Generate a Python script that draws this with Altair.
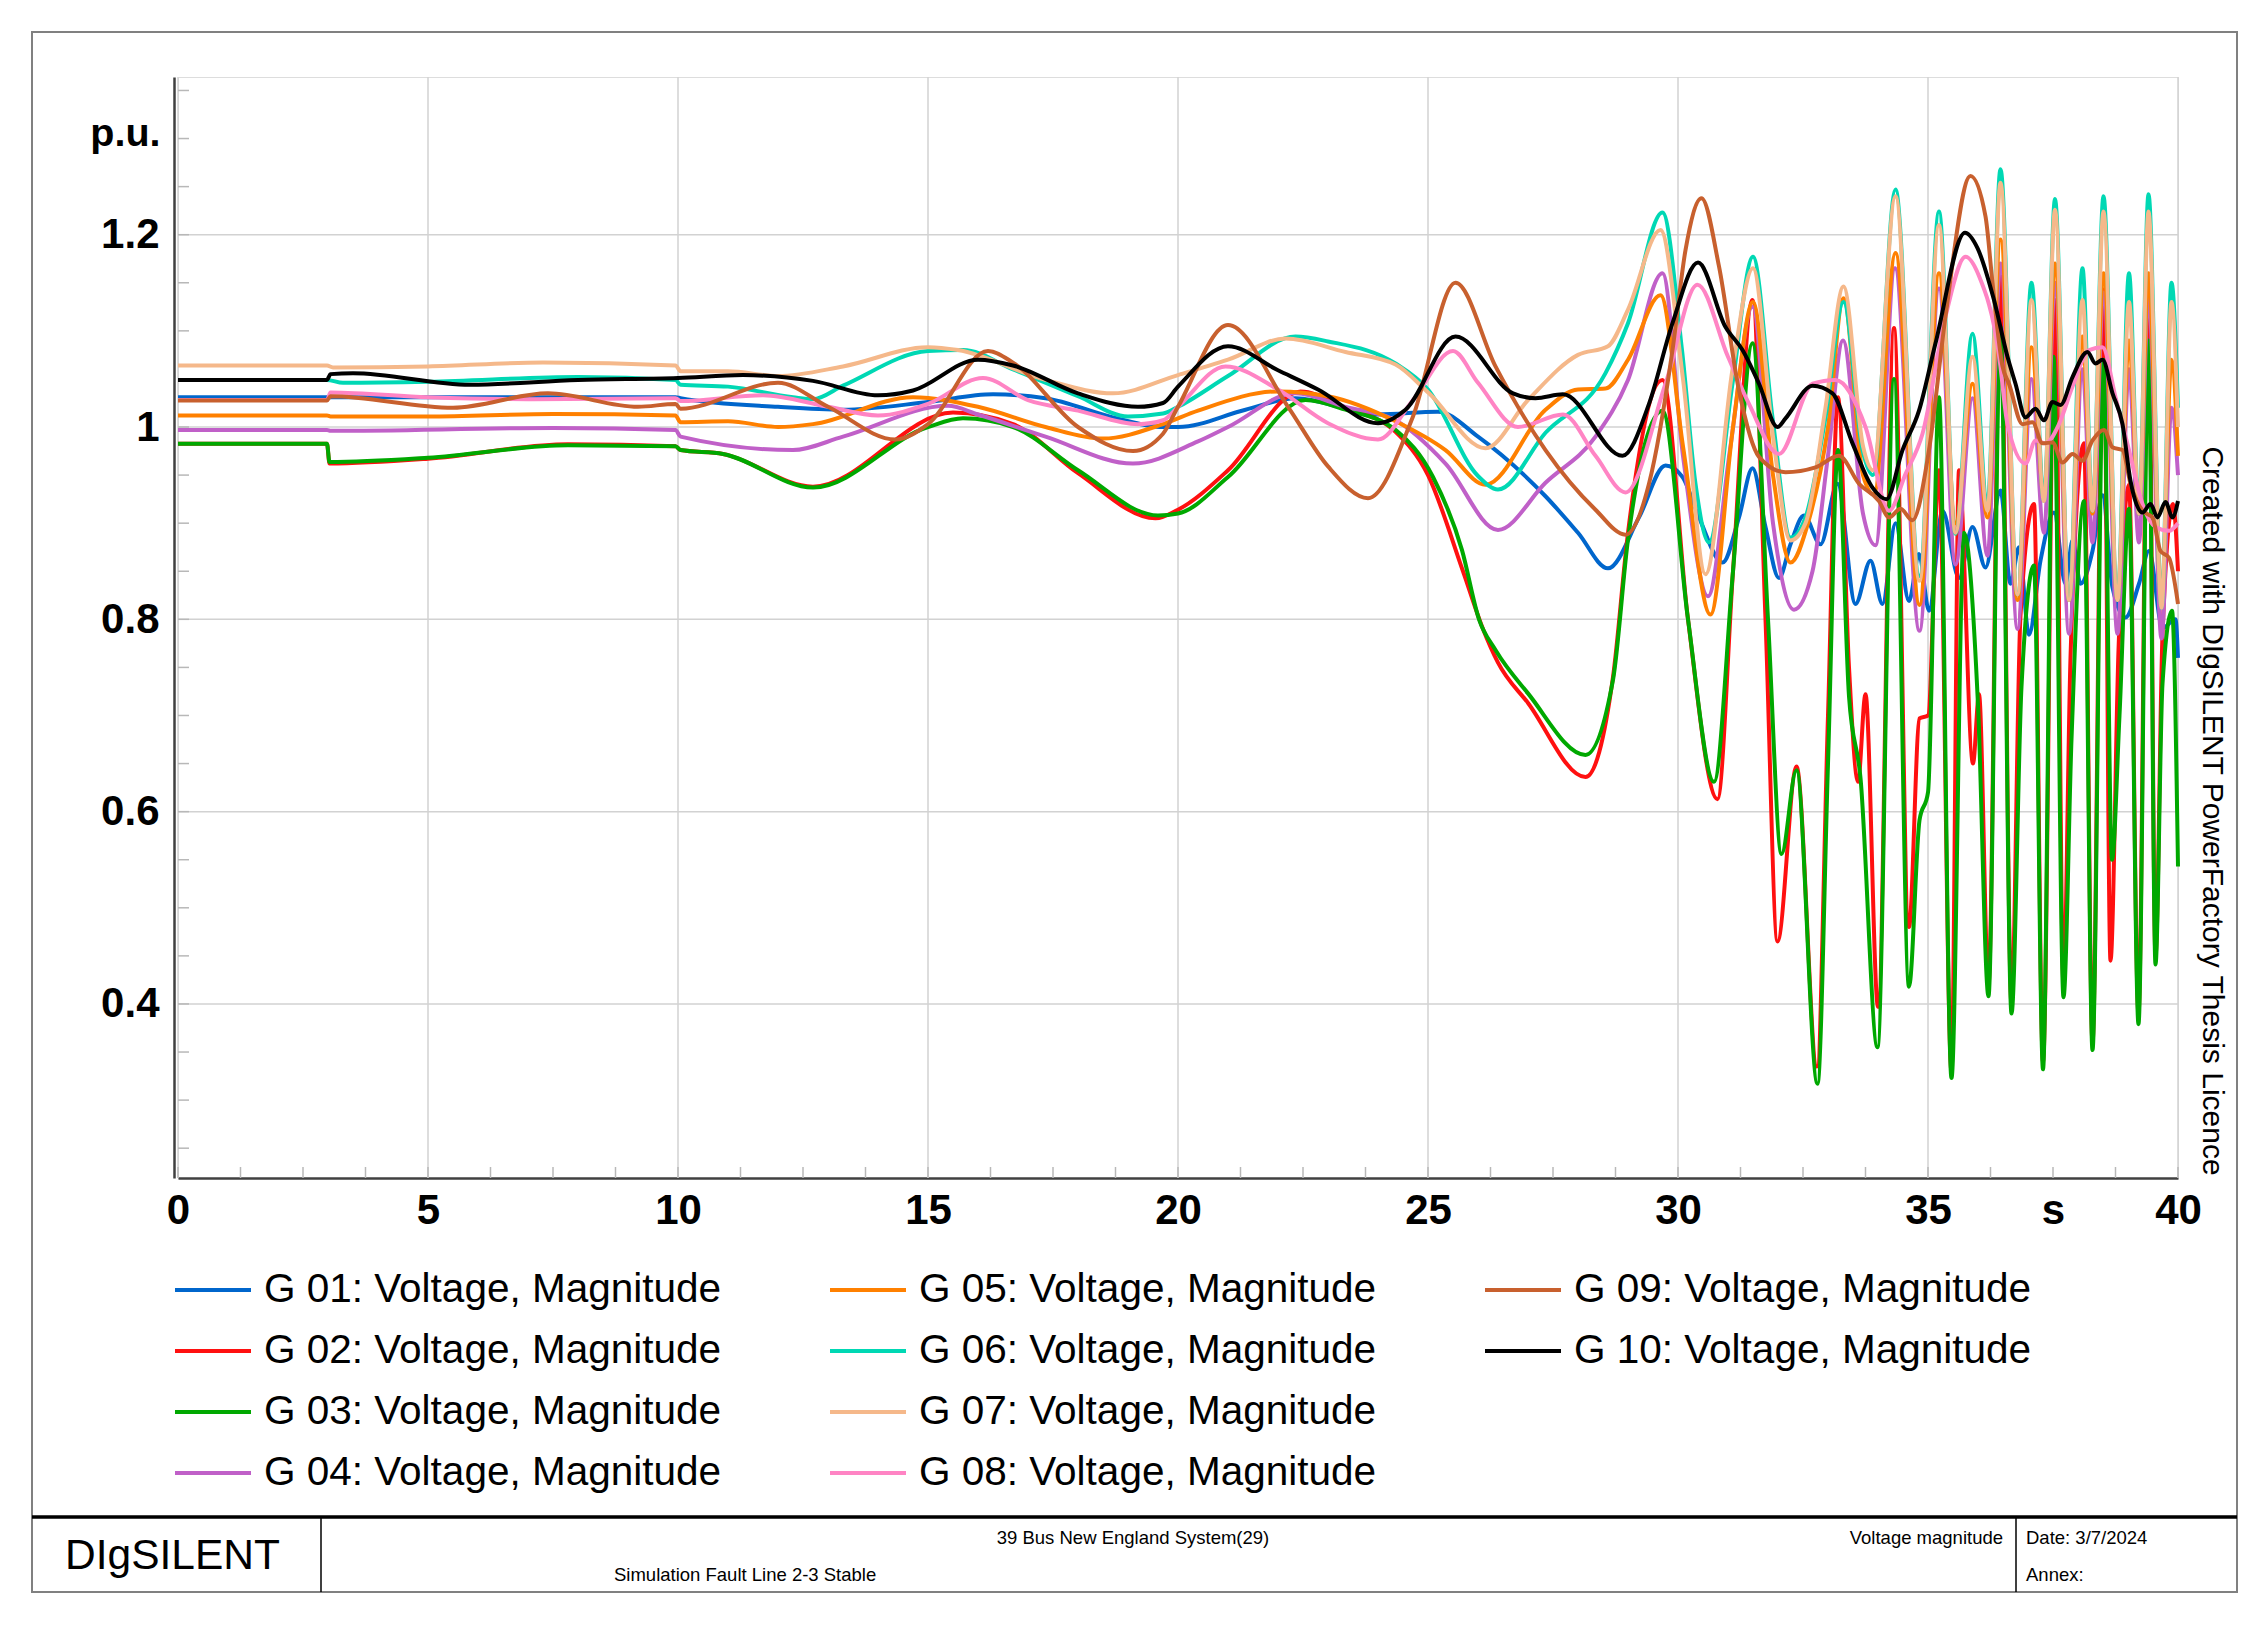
import altair as alt
import pandas as pd

SERIES = [
    "G 01: Voltage, Magnitude", "G 02: Voltage, Magnitude", "G 03: Voltage, Magnitude",
    "G 04: Voltage, Magnitude", "G 05: Voltage, Magnitude", "G 06: Voltage, Magnitude",
    "G 07: Voltage, Magnitude", "G 08: Voltage, Magnitude", "G 09: Voltage, Magnitude",
    "G 10: Voltage, Magnitude",
]
COLORS = ["#0066CC", "#FF1010", "#00A800", "#C060C8", "#FF8000",
          "#00D8B4", "#F5B88A", "#FF84C4", "#C8602E", "#000000"]

# (time s, voltage p.u.)
G01 = [(0, 1.031), (9.95, 1.031), (10.05, 1.03), (12.0, 1.021), (13.3, 1.018), (15.0, 1.026),
       (16.3, 1.034), (17.35, 1.03), (18.7, 1.01), (19.7, 1.0), (20.0, 1.0), (21.35, 1.018),
       (22.35, 1.03), (24.0, 1.013), (25.2, 1.016), (26.0, 0.99), (27.35, 0.928), (28.0, 0.89),
       (28.6, 0.853), (29.22, 0.906), (29.75, 0.96), (30.09, 0.948), (30.42, 0.906), (30.89, 0.859),
       (31.22, 0.906), (31.49, 0.957), (31.75, 0.896), (32.02, 0.843), (32.25, 0.878), (32.52, 0.908),
       (32.85, 0.878), (33.19, 0.941), (33.55, 0.816), (33.85, 0.861), (34.09, 0.816), (34.35, 0.9),
       (34.62, 0.819), (34.82, 0.868), (35.02, 0.809), (35.29, 0.913), (35.62, 0.843), (35.89, 0.896),
       (36.15, 0.854), (36.45, 0.934), (36.65, 0.837), (36.82, 0.875), (37.02, 0.784), (37.25, 0.861),
       (37.52, 0.911), (37.75, 0.837), (37.89, 0.882), (38.05, 0.837), (38.29, 0.871), (38.49, 0.929),
       (38.69, 0.833), (38.95, 0.802), (39.22, 0.837), (39.42, 0.871), (39.69, 0.791), (39.95, 0.8),
       (40.0, 0.76)]
G02 = [(0, 0.9825), (2.98, 0.9825), (3.03, 0.962), (5, 0.967), (7.8, 0.982), (9.95, 0.98),
       (10.05, 0.976), (10.9, 0.972), (12.7, 0.938), (15.5, 1.015), (16.7, 1.003), (18.0, 0.952),
       (19.55, 0.905), (20.0, 0.914), (21.0, 0.955), (22.45, 1.037), (23.35, 1.02), (24.35, 0.995),
       (25.0, 0.95), (25.7, 0.85), (26.1, 0.79), (26.4, 0.755), (27.0, 0.713), (28.15, 0.636),
       (28.7, 0.74), (29.0, 0.89), (29.69, 1.049), (30.2, 0.8), (30.79, 0.613), (31.1, 0.85),
       (31.49, 1.132), (31.75, 0.8), (31.99, 0.465), (32.37, 0.647), (32.78, 0.335), (33.0, 0.7),
       (33.2, 1.031), (33.42, 0.75), (33.6, 0.631), (33.75, 0.722), (34.0, 0.397), (34.32, 1.103),
       (34.62, 0.48), (34.83, 0.697), (35.0, 0.7), (35.22, 0.955), (35.47, 0.33), (35.62, 0.955),
       (35.9, 0.65), (36.02, 0.722), (36.21, 0.42), (36.45, 1.157), (36.67, 0.4), (36.85, 0.804),
       (37.12, 0.92), (37.3, 0.34), (37.54, 1.132), (37.71, 0.42), (37.85, 0.76), (38.12, 0.983),
       (38.29, 0.36), (38.51, 1.143), (38.65, 0.445), (38.81, 0.768), (39.02, 0.94), (39.21, 0.39),
       (39.41, 1.157), (39.55, 0.45), (39.69, 0.784), (39.9, 0.92), (40.0, 0.85)]
G03 = [(0, 0.9825), (2.98, 0.9825), (3.03, 0.9635), (5, 0.968), (7.8, 0.981), (9.95, 0.98),
       (10.05, 0.976), (10.9, 0.972), (12.7, 0.937), (15.0, 1.0), (15.7, 1.009), (16.7, 1.0),
       (18.0, 0.955), (19.6, 0.908), (20.0, 0.91), (21.0, 0.948), (22.55, 1.028), (23.35, 1.018),
       (24.35, 0.997), (25.1, 0.948), (25.68, 0.872), (26.02, 0.8), (26.35, 0.768), (27.0, 0.723),
       (28.15, 0.659), (28.7, 0.737), (29.0, 0.883), (29.69, 1.017), (30.2, 0.8), (30.72, 0.631),
       (31.1, 0.85), (31.49, 1.087), (31.8, 0.8), (32.07, 0.556), (32.37, 0.643), (32.79, 0.317),
       (33.0, 0.65), (33.2, 0.976), (33.42, 0.72), (33.65, 0.635), (33.99, 0.355), (34.32, 1.05),
       (34.62, 0.418), (34.83, 0.591), (35.0, 0.62), (35.22, 1.031), (35.47, 0.323), (35.72, 0.89),
       (36.0, 0.711), (36.21, 0.408), (36.45, 1.104), (36.67, 0.39), (36.87, 0.73), (37.12, 0.856),
       (37.3, 0.332), (37.51, 1.073), (37.71, 0.407), (37.87, 0.675), (38.12, 0.923), (38.29, 0.352),
       (38.51, 1.07), (38.68, 0.55), (38.83, 0.7), (39.02, 0.915), (39.21, 0.379), (39.41, 1.09),
       (39.55, 0.441), (39.69, 0.733), (39.88, 0.809), (40.0, 0.543)]
G04 = [(0, 0.997), (2.98, 0.997), (3.05, 0.996), (7.5, 0.999), (9.95, 0.997), (10.05, 0.99),
       (12.3, 0.976), (13.3, 0.99), (15.4, 1.022), (16.0, 1.013), (17.35, 0.99), (19.1, 0.962),
       (20.4, 0.985), (21.0, 1.0), (22.35, 1.035), (23.35, 1.021), (24.35, 1.007), (25.35, 0.962),
       (26.4, 0.893), (27.35, 0.942), (28.35, 0.99), (29.0, 1.049), (29.69, 1.16), (30.1, 0.97),
       (30.6, 0.824), (31.05, 0.98), (31.49, 1.125), (31.9, 0.9), (32.32, 0.81), (32.69, 0.85),
       (33.0, 0.97), (33.3, 1.09), (33.7, 0.91), (33.95, 0.877), (34.34, 1.165), (34.83, 0.788),
       (35.22, 1.144), (35.55, 0.857), (35.89, 1.03), (36.19, 0.866), (36.45, 1.17), (36.79, 0.79),
       (37.07, 1.05), (37.32, 0.89), (37.54, 1.15), (37.82, 0.785), (38.09, 1.06), (38.29, 0.88),
       (38.51, 1.14), (38.79, 0.785), (39.02, 1.06), (39.22, 0.88), (39.41, 1.14), (39.67, 0.78),
       (39.87, 1.02), (40.0, 0.95)]
G05 = [(0, 1.012), (2.98, 1.012), (3.05, 1.011), (5, 1.011), (7.5, 1.0135), (9.95, 1.012),
       (10.05, 1.005), (11, 1.006), (12.0, 1.0), (12.7, 1.003), (14.7, 1.031), (16.0, 1.021),
       (17.35, 1.0), (18.5, 0.988), (19.7, 1.003), (20.4, 1.017), (22.0, 1.037), (23.0, 1.032),
       (24.35, 1.006), (25.35, 0.976), (26.15, 0.94), (27.35, 1.018), (28.0, 1.039), (28.55, 1.04),
       (29.0, 1.07), (29.65, 1.137), (30.1, 0.98), (30.65, 0.805), (31.1, 1.0), (31.5, 1.13),
       (31.9, 0.95), (32.25, 0.859), (32.6, 0.9), (33.0, 1.0), (33.31, 1.134), (33.7, 0.95),
       (33.92, 0.93), (34.35, 1.181), (34.83, 0.815), (35.22, 1.16), (35.55, 0.9), (35.89, 1.045),
       (36.19, 0.906), (36.45, 1.195), (36.79, 0.82), (37.07, 1.083), (37.32, 0.927), (37.54, 1.17),
       (37.82, 0.82), (38.09, 1.094), (38.29, 0.91), (38.51, 1.16), (38.79, 0.82), (39.02, 1.09),
       (39.22, 0.91), (39.41, 1.16), (39.67, 0.82), (39.87, 1.07), (40.0, 0.97)]
G06 = [(0, 1.049), (2.98, 1.049), (3.3, 1.046), (5, 1.047), (8, 1.052), (9.95, 1.049),
       (10.05, 1.044), (11, 1.042), (12.3, 1.031), (12.7, 1.029), (13.3, 1.043), (15.0, 1.079),
       (15.7, 1.08), (16.7, 1.06), (18.0, 1.032), (19.0, 1.011), (19.7, 1.014), (20.0, 1.021),
       (21.0, 1.053), (22.35, 1.094), (23.0, 1.089), (24.35, 1.066), (25.0, 1.039), (26.0, 0.949),
       (26.4, 0.935), (27.35, 0.994), (28.55, 1.056), (29.0, 1.108), (29.69, 1.223), (30.08, 1.08),
       (30.35, 0.941), (30.62, 0.88), (31.09, 1.045), (31.5, 1.177), (31.89, 1.01), (32.25, 0.885),
       (32.55, 0.906), (32.95, 1.01), (33.31, 1.13), (33.69, 0.976), (33.9, 0.95), (34.35, 1.247),
       (34.83, 0.845), (35.22, 1.224), (35.55, 0.889), (35.89, 1.097), (36.19, 0.92), (36.45, 1.268),
       (36.79, 0.826), (37.07, 1.15), (37.32, 0.923), (37.54, 1.237), (37.82, 0.82), (38.09, 1.165),
       (38.29, 0.913), (38.51, 1.24), (38.79, 0.82), (39.02, 1.16), (39.22, 0.91), (39.41, 1.242),
       (39.67, 0.812), (39.87, 1.15), (40.0, 1.02)]
G07 = [(0, 1.064), (2.98, 1.064), (3.1, 1.062), (5, 1.063), (7.3, 1.067), (9.95, 1.064),
       (10.05, 1.058), (11, 1.058), (12.0, 1.053), (13.3, 1.063), (15.0, 1.083), (15.6, 1.08),
       (17.35, 1.049), (18.7, 1.035), (20.0, 1.054), (21.0, 1.07), (22.15, 1.092), (23.35, 1.078),
       (24.35, 1.065), (25.02, 1.035), (26.15, 0.978), (27.0, 1.028), (28.0, 1.075), (28.6, 1.084),
       (29.0, 1.122), (29.65, 1.205), (30.1, 1.05), (30.55, 0.847), (31.09, 1.06), (31.5, 1.165),
       (31.9, 0.99), (32.25, 0.882), (32.55, 0.9), (32.95, 1.02), (33.31, 1.146), (33.7, 0.98),
       (33.9, 0.955), (34.35, 1.24), (34.83, 0.84), (35.22, 1.21), (35.55, 0.89), (35.89, 1.073),
       (36.19, 0.913), (36.45, 1.254), (36.79, 0.826), (37.07, 1.132), (37.32, 0.923), (37.54, 1.226),
       (37.82, 0.82), (38.09, 1.132), (38.29, 0.913), (38.51, 1.224), (38.79, 0.82), (39.02, 1.13),
       (39.22, 0.91), (39.41, 1.224), (39.67, 0.812), (39.87, 1.13), (40.0, 1.0)]
G08 = [(0, 1.028), (2.98, 1.028), (3.05, 1.036), (5, 1.031), (7, 1.029), (9.95, 1.03),
       (10.05, 1.027), (11.7, 1.033), (13.0, 1.021), (14.0, 1.012), (15.0, 1.024), (16.1, 1.051),
       (17.0, 1.028), (18.0, 1.017), (19.2, 1.003), (19.7, 1.007), (20.0, 1.021), (20.95, 1.063),
       (22.0, 1.039), (23.0, 1.004), (24.0, 0.987), (24.7, 1.028), (25.5, 1.079), (26.0, 1.046),
       (26.8, 1.0), (27.7, 1.013), (28.35, 0.97), (28.95, 0.932), (29.75, 1.045), (30.39, 1.148),
       (31.0, 1.073), (31.42, 1.024), (32.02, 0.972), (32.69, 1.045), (33.15, 1.049), (33.75, 1.0),
       (34.22, 0.913), (34.55, 0.951), (34.89, 0.993), (35.35, 1.115), (35.75, 1.177), (36.02, 1.157),
       (36.42, 1.075), (36.59, 1.003), (36.95, 0.962), (37.15, 0.986), (37.35, 0.983), (37.62, 1.003),
       (37.89, 1.042), (38.22, 1.08), (38.49, 1.083), (38.75, 1.031), (39.02, 0.976), (39.29, 0.92),
       (39.55, 0.896), (39.82, 0.892), (40.0, 0.9)]
G09 = [(0, 1.0276), (2.98, 1.0276), (3.05, 1.032), (5.5, 1.02), (7.4, 1.035), (9.2, 1.021),
       (9.95, 1.024), (10.05, 1.019), (12.0, 1.046), (13.0, 1.021), (14.35, 0.987), (15.0, 1.003),
       (16.2, 1.079), (16.7, 1.067), (18.0, 1.0), (19.1, 0.975), (19.7, 0.993), (20.0, 1.021),
       (21.0, 1.106), (22.2, 1.021), (23.0, 0.959), (23.8, 0.926), (24.7, 1.011), (25.55, 1.15),
       (26.35, 1.063), (27.35, 0.976), (28.35, 0.914), (28.95, 0.888), (29.42, 0.941), (29.89, 1.08),
       (30.15, 1.184), (30.47, 1.238), (30.82, 1.167), (31.22, 1.038), (31.62, 0.969), (32.15, 0.953),
       (32.75, 0.958), (33.22, 0.97), (33.62, 0.941), (34.02, 0.923), (34.22, 0.906), (34.45, 0.915),
       (34.69, 0.903), (35.02, 0.976), (35.35, 1.115), (35.85, 1.261), (36.15, 1.219), (36.29, 1.15),
       (36.49, 1.063), (36.62, 1.045), (36.89, 1.003), (37.09, 1.005), (37.29, 0.983), (37.49, 0.984),
       (37.69, 0.963), (37.89, 0.972), (38.09, 0.965), (38.29, 0.986), (38.52, 0.997), (38.69, 0.979),
       (38.89, 0.976), (39.05, 0.941), (39.29, 0.913), (39.49, 0.906), (39.65, 0.871), (39.82, 0.864),
       (40.0, 0.816)]
G10 = [(0, 1.049), (2.98, 1.049), (3.05, 1.055), (3.5, 1.056), (5.84, 1.044), (8, 1.049),
       (10, 1.051), (11.3, 1.054), (12.7, 1.048), (14.0, 1.033), (14.7, 1.038), (16.0, 1.07),
       (16.7, 1.064), (18.0, 1.035), (19.2, 1.021), (19.7, 1.025), (20.0, 1.042), (21.0, 1.084),
       (22.0, 1.059), (22.8, 1.039), (24.0, 1.004), (24.55, 1.018), (25.55, 1.094), (26.7, 1.035),
       (27.15, 1.03), (27.7, 1.034), (28.89, 0.97), (29.42, 1.024), (29.89, 1.108), (30.4, 1.171),
       (30.95, 1.104), (31.29, 1.08), (31.62, 1.045), (31.99, 1.0), (32.15, 1.009), (32.69, 1.043),
       (33.09, 1.035), (33.49, 0.983), (33.89, 0.937), (34.17, 0.925), (34.49, 0.976), (34.82, 1.017),
       (35.15, 1.087), (35.74, 1.202), (35.99, 1.186), (36.32, 1.132), (36.59, 1.073), (36.75, 1.045),
       (36.95, 1.01), (37.15, 1.019), (37.32, 1.007), (37.49, 1.026), (37.65, 1.023), (37.89, 1.052),
       (38.19, 1.078), (38.35, 1.066), (38.49, 1.07), (38.69, 1.035), (38.89, 1.003), (39.05, 0.944),
       (39.29, 0.911), (39.45, 0.92), (39.59, 0.906), (39.75, 0.922), (39.89, 0.906), (40.0, 0.923)]

X_GRID = [0, 5, 10, 15, 20, 25, 30, 35, 40]
X_TICKS = [0, 5, 10, 15, 20, 25, 30, 35, 37.5, 40]
Y_TICKS = [0.4, 0.6, 0.8, 1.0, 1.2]
X_MINOR = [0, 1.25, 2.5, 3.75, 5, 6.25, 7.5, 8.75, 10, 11.25, 12.5, 13.75, 15, 16.25, 17.5, 18.75,
           20, 21.25, 22.5, 23.75, 25, 26.25, 27.5, 28.75, 30, 31.25, 32.5, 33.75, 35, 36.25, 37.5,
           38.75, 40]
Y_MINOR = [0.25, 0.3, 0.35, 0.4, 0.45, 0.5, 0.55, 0.6, 0.65, 0.7, 0.75, 0.8, 0.85, 0.9, 0.95,
           1.0, 1.05, 1.1, 1.15, 1.2, 1.25, 1.3, 1.35]

ALL = [G01, G02, G03, G04, G05, G06, G07, G08, G09, G10]
rows = []
for name, pts in zip(SERIES, ALL):
    for t, v in pts:
        rows.append({"series": name, "t": t, "v": v})
df = pd.DataFrame(rows)

W, H = 2000, 1101
FONT = "Liberation Sans"
xs = alt.Scale(domain=[0, 40], nice=False, zero=False)
ys = alt.Scale(domain=[0.219, 1.364], nice=False, zero=False)

x_axis = alt.Axis(values=X_TICKS, labelExpr="datum.value == 37.5 ? 's' : datum.label",
                  grid=False, ticks=False, domain=True, domainColor="#404040", domainWidth=2.5,
                  labelFont=FONT, labelFontWeight="bold", labelFontSize=42, labelColor="black",
                  labelPadding=12, labelFlush=False, labelOverlap=False, title="")
y_axis = alt.Axis(values=Y_TICKS, format=".2~f", grid=False, ticks=False, domain=True,
                  domainColor="#404040", domainWidth=2.5, offset=4,
                  labelFont=FONT, labelFontWeight="bold", labelFontSize=42, labelColor="black",
                  labelPadding=15, labelFlush=False, labelOverlap=False,
                  title="p.u.", titleAngle=0, titleAlign="right", titleBaseline="middle",
                  titleX=-14, titleY=56, titleFont=FONT, titleFontSize=39.5,
                  titleFontWeight="bold", titleColor="black")


def X(field="t"):
    return alt.X(f"{field}:Q", scale=xs, axis=x_axis)


def Y(field="v"):
    return alt.Y(f"{field}:Q", scale=ys, axis=y_axis)


GRID_COLOR = "#D2D2D2"
vgrid = alt.Chart(pd.DataFrame({"t": X_GRID})).mark_rule(color=GRID_COLOR, strokeWidth=1.5).encode(
    x=X())
hgrid = alt.Chart(pd.DataFrame({"v": Y_TICKS})).mark_rule(color=GRID_COLOR, strokeWidth=1.5).encode(
    y=Y())
yminor = alt.Chart(pd.DataFrame({"v": Y_MINOR})).mark_rule(color="#B8B8B8", strokeWidth=1.5).encode(
    y=Y(), x=alt.value(0), x2=alt.value(11))
xminor = alt.Chart(pd.DataFrame({"t": X_MINOR})).mark_rule(color="#B8B8B8", strokeWidth=1.5).encode(
    x=X(), y=alt.value(H), y2=alt.value(H - 11))


def legend(lx, ly):
    return alt.Legend(orient="none", legendX=lx, legendY=ly, direction="vertical", title=None,
                      symbolType="stroke", symbolSize=5776, symbolStrokeWidth=4,
                      labelFont=FONT, labelFontSize=40.5, labelColor="black", labelLimit=900,
                      labelOffset=11, rowPadding=0, padding=0)


def line_layer(idx, lx, ly):
    names = [SERIES[i] for i in idx]
    cols = [COLORS[i] for i in idx]
    return alt.Chart(df[df["series"].isin(names)]).mark_line(
        strokeWidth=4, interpolate="monotone").encode(
        x=X(), y=Y(),
        color=alt.Color("series:N", scale=alt.Scale(domain=names, range=cols),
                        legend=legend(lx, ly)))


LEG_Y = 1173
lines1 = line_layer([0, 1, 2, 3], -5, LEG_Y)
lines2 = line_layer([4, 5, 6, 7], 650, LEG_Y)
lines3 = line_layer([8, 9], 1305, LEG_Y)

one = pd.DataFrame({"k": [0]})
frame = alt.Chart(one).mark_rect(fill="transparent", stroke="#808080", strokeWidth=2).encode(
    x=alt.value(-146), x2=alt.value(2059), y=alt.value(-45), y2=alt.value(1515))
tb_top = alt.Chart(one).mark_rule(color="black", strokeWidth=3.5).encode(
    x=alt.value(-146), x2=alt.value(2059), y=alt.value(1440))
tb_div1 = alt.Chart(one).mark_rule(color="black", strokeWidth=1.5).encode(
    x=alt.value(143), y=alt.value(1440), y2=alt.value(1515))
tb_div2 = alt.Chart(one).mark_rule(color="black", strokeWidth=1.5).encode(
    x=alt.value(1838), y=alt.value(1440), y2=alt.value(1515))


def label(text, x, y, size, align="left", angle=0):
    return alt.Chart(one).mark_text(text=text, font=FONT, fontSize=size, align=align,
                                    baseline="middle", angle=angle, color="black").encode(
        x=alt.value(x), y=alt.value(y))


texts = [
    label("DIgSILENT", -113, 1479, 42.5),
    label("39 Bus New England System(29)", 955, 1461, 18.5, "center"),
    label("Simulation Fault Line 2-3 Stable", 436, 1498, 18.5),
    label("Voltage magnitude", 1825, 1461, 18.5, "right"),
    label("Date: 3/7/2024", 1848, 1461, 18.5),
    label("Annex:", 1848, 1498, 18.5),
    label("Created with DIgSILENT PowerFactory Thesis Licence", 2034, 734, 30, "center", 90),
]

chart = alt.layer(vgrid, hgrid, yminor, xminor, lines1, lines2, lines3,
                  frame, tb_top, tb_div1, tb_div2, *texts).resolve_scale(
    color="independent").properties(
    width=W, height=H,
    autosize=alt.AutoSizeParams(type="none"),
    padding={"left": 170, "top": 69, "right": 72, "bottom": 432},
    background="white",
).configure_view(strokeWidth=0).configure(font=FONT)

chart.save("out.html", embed_options={"renderer": "svg", "actions": False})
